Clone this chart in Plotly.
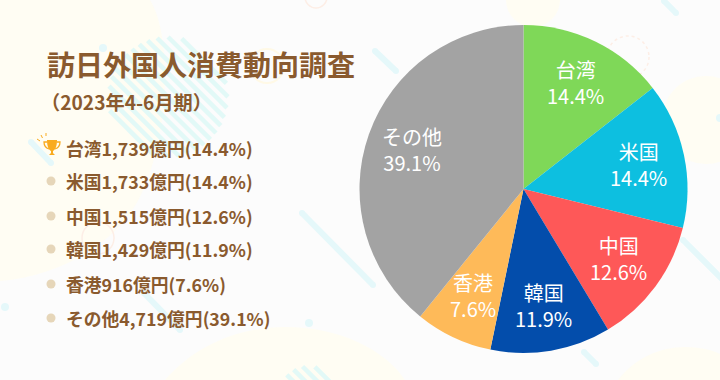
import math
import plotly.graph_objects as go

categories = ["台湾", "米国", "中国", "韓国", "香港", "その他"]
amounts = [1739, 1733, 1515, 1429, 916, 4719]
amount_labels = ["1,739", "1,733", "1,515", "1,429", "916", "4,719"]
shares = [14.4, 14.4, 12.6, 11.9, 7.6, 39.1]
colors = ["#7fd858", "#0dbfe0", "#fe5858", "#034dab", "#feba59", "#a3a3a3"]
title = "訪日外国人消費動向調査"
subtitle = "（2023年4-6月期）"

W, H = 720, 380
BROWN = "#8a5a2e"
CREAM = "#fffdf3"
CYAN = "#e5f8fa"
FONT = "Noto Sans CJK JP"

def X(x): return x / W
def Y(y): return 1 - y / H

shapes = []
def path(points_cmd, **kw):
    shapes.append(dict(type="path", xref="paper", yref="paper", path=points_cmd, layer="below", **kw))
def P(x, y): return f"{X(x):.5f},{Y(y):.5f}"
def circle(cx, cy, r, fill=None, line=None, lw=0, dash=None):
    d = dict(type="circle", xref="paper", yref="paper", x0=X(cx-r), x1=X(cx+r), y0=Y(cy+r), y1=Y(cy-r), layer="below",
             fillcolor=fill or "rgba(0,0,0,0)", line=dict(color=line or "rgba(0,0,0,0)", width=lw, dash=dash or "solid"))
    shapes.append(d)
def seg(x0, y0, x1, y1, color=CYAN, w=6):
    shapes.append(dict(type="line", xref="paper", yref="paper", x0=X(x0), y0=Y(y0), x1=X(x1), y1=Y(y1), layer="below",
                       line=dict(color=color, width=w)))
    circle(x0, y0, w/2, fill=color); circle(x1, y1, w/2, fill=color)
def striped(scx, scy, sr, step=8.5, width=4.5):
    # stripes run from top-left to bottom-right inside a disc
    c = math.cos(math.pi/4)
    n = int(sr / step) + 1
    for k in range(-n, n + 1):
        off = k * step
        if abs(off) >= sr - 1: continue
        half = math.sqrt(sr*sr - off*off)
        mx, my = scx + off*c, scy - off*c
        shapes.append(dict(type="line", xref="paper", yref="paper", layer="below",
                           x0=X(mx-half*c), y0=Y(my-half*c), x1=X(mx+half*c), y1=Y(my+half*c),
                           line=dict(color="#e2f9f7", width=width)))

# background blobs
path(f"M{P(0,0)} L{P(150,0)} C{P(172,35)} {P(170,130)} {P(143,190)} C{P(125,235)} {P(70,275)} {P(0,281)} Z", fillcolor=CREAM, line=dict(width=0))
path(f"M{P(165,380)} C{P(195,345)} {P(240,327)} {P(285,327)} C{P(340,327)} {P(385,350)} {P(405,380)} Z", fillcolor=CREAM, line=dict(width=0))
path(f"M{P(618,380)} C{P(635,358)} {P(660,347)} {P(685,347)} C{P(700,347)} {P(712,350)} {P(720,354)} L{P(720,380)} Z", fillcolor=CREAM, line=dict(width=0))
circle(533, 0, 27, fill=CREAM)
circle(706, 120, 44, fill=CREAM)

striped(168, 97, 60)
striped(308, 396, 30)

# rings
circle(628, 57, 21, line="#fdeee6", lw=1.5, dash="dot")
circle(316, -3, 11, line="#fdeee6", lw=1.5)
circle(98, 238, 16, line="#fdeee6", lw=1.5)
circle(267, 66, 17, line="#fff9e6", lw=2)

# streaks and dots
seg(31, 142, 51, 163)
seg(302, 213, 373, 285)
seg(683, 240, 725, 282)
seg(144, 293, 180, 330)
seg(375, 51, 396, 71)
seg(664, 1, 676, 13)
seg(584, 352, 596, 364)
circle(103, 48, 4, fill=CYAN)
circle(5, 307, 4, fill=CYAN)
circle(309, 323, 4, fill=CYAN)
circle(720, 118, 4, fill=CYAN)

# bullets
rows = [148, 181, 216, 249, 284, 318]
for y in rows[1:]:
    circle(51, y, 4.5, fill="#e6d6b9")

# trophy
GOLD = "#f9ab20"
path(f"M{P(47,140)} L{P(57,140)} C{P(57,147)} {P(55,150)} {P(53,151)} L{P(53,153)} L{P(55,155)} L{P(49,155)} L{P(51,153)} L{P(51,151)} C{P(49,150)} {P(47,147)} {P(47,140)} Z",
     fillcolor=GOLD, line=dict(width=0))
path(f"M{P(47,142)} L{P(44,142)} C{P(44,146)} {P(46,148)} {P(49,149)}", line=dict(color=GOLD, width=1.3))
path(f"M{P(57,142)} L{P(60,142)} C{P(60,146)} {P(58,148)} {P(55,149)}", line=dict(color=GOLD, width=1.3))
for a, b, c, d in [(37, 139, 40, 141), (41, 135, 42.5, 138), (46, 133, 46, 136)]:
    shapes.append(dict(type="line", xref="paper", yref="paper", x0=X(a), y0=Y(b), x1=X(c), y1=Y(d), line=dict(color=GOLD, width=1), layer="below"))

annotations = [
    dict(text=title, x=X(45), y=Y(64), font=dict(size=28, color=BROWN, family=FONT, weight=700)),
    dict(text=subtitle, x=X(39), y=Y(102), font=dict(size=19.2, color=BROWN, family=FONT, weight=700)),
]
for cat, lab, sh, y in zip(categories, amount_labels, shares, rows):
    annotations.append(dict(text=f"{cat}{lab}億円({sh}%)", x=X(64), y=Y(y),
                            font=dict(size=17.8, color=BROWN, family=FONT, weight=700)))
for a in annotations:
    a.update(xref="paper", yref="paper", xanchor="left", yanchor="middle", showarrow=False, align="left")

R, CX, CY = 164, 523.5, 189
# slice labels placed at 72% of the radius, at each slice's middle angle
total = sum(amounts)
acc = 0
for cat, val, sh in zip(categories, amounts, shares):
    mid = (acc + val / 2) / total * 2 * math.pi
    acc += val
    annotations.append(dict(text=f"{cat}<br>{sh}%", xref="paper", yref="paper",
                            x=X(CX + 0.72 * R * math.sin(mid)), y=Y(CY - 0.72 * R * math.cos(mid)),
                            xanchor="center", yanchor="middle", showarrow=False, align="center",
                            font=dict(size=20, color="#ffffff", family=FONT)))

fig = go.Figure(go.Pie(
    labels=categories, values=amounts, sort=False, direction="clockwise", rotation=0,
    marker=dict(colors=colors, line=dict(width=0)),
    textinfo="none",
    showlegend=False, hoverinfo="skip",
    domain=dict(x=[X(CX-R), X(CX+R)], y=[Y(CY+R), Y(CY-R)]),
))
fig.update_layout(width=W, height=H, margin=dict(l=0, r=0, t=0, b=0), paper_bgcolor="#fcfcfc",
                  plot_bgcolor="rgba(0,0,0,0)", shapes=shapes, annotations=annotations,
                  font=dict(family=FONT))
fig.write_html("out.html", config=dict(displayModeBar=False),
               post_script="document.body.style.margin='0';document.body.style.overflow='hidden';")
